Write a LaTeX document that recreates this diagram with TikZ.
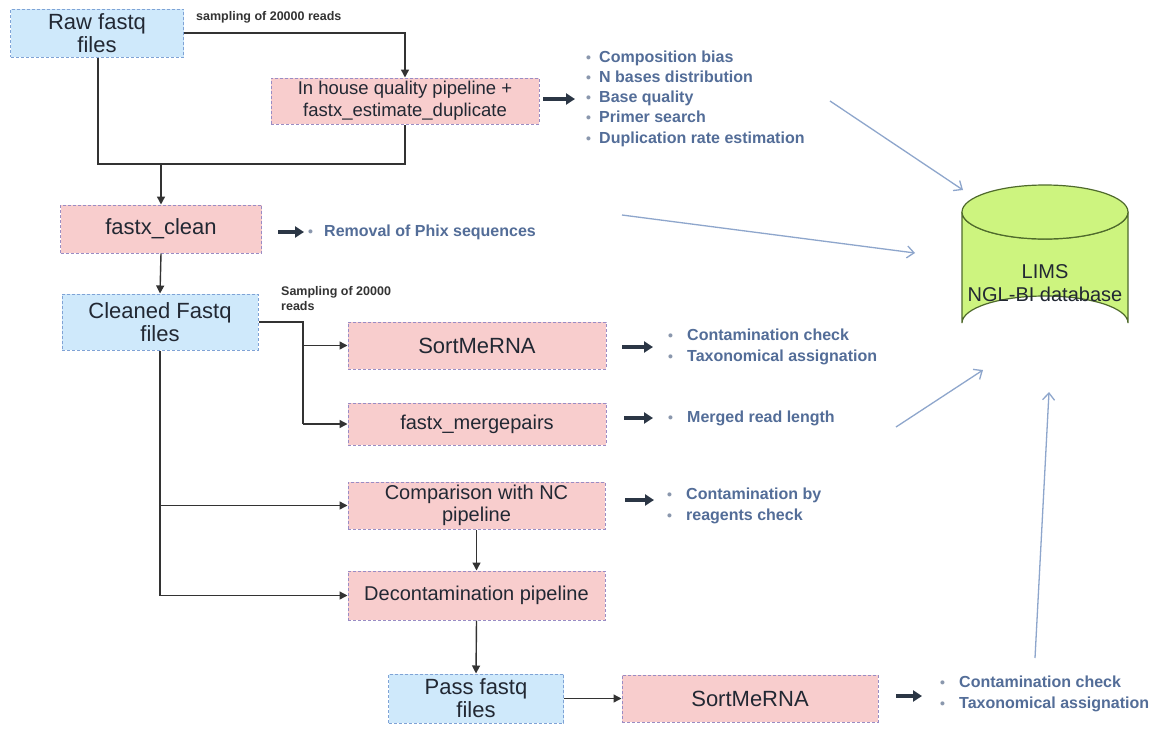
\documentclass[tikz,border=0pt]{standalone}
\usepackage{fontspec}
\setmainfont{Liberation Sans}
\usetikzlibrary{arrows.meta}
\definecolor{bluefill}{HTML}{CFE9FB}
\definecolor{blueedge}{HTML}{7FA3D6}
\definecolor{pinkfill}{HTML}{F8CDCD}
\definecolor{pinkedge}{HTML}{9A8CC4}
\definecolor{bullettext}{HTML}{536D98}
\definecolor{bulletdot}{HTML}{8A97AD}
\definecolor{thickarrow}{HTML}{2B3645}
\definecolor{linkblue}{HTML}{8EA6CC}
\definecolor{dbfill}{HTML}{CDF47F}
\definecolor{dbedge}{HTML}{4F6A2C}
\definecolor{boxtext}{HTML}{222833}
\newcommand{\bitem}[2][19pt]{\makebox[#1][l]{{\fontsize{14}{14}\selectfont\color{bulletdot}\textbullet}}#2}
\tikzset{
  bluebox/.style={draw=blueedge, fill=bluefill, dash pattern=on 3pt off 2pt, line width=1pt,
    align=center, text=boxtext, inner sep=0pt, font=\fontsize{22}{23}\selectfont},
  pinkbox/.style={draw=pinkedge, fill=pinkfill, dash pattern=on 3pt off 2pt, line width=1pt,
    align=center, text=boxtext, inner sep=0pt, font=\fontsize{20}{22}\selectfont},
  bullets/.style={align=left, anchor=west, inner sep=0pt, text=bullettext,
    font=\fontsize{16}{20.3}\selectfont\bfseries},
  smallnote/.style={align=left, anchor=west, inner sep=0pt, text=black!80,
    font=\fontsize{12.5}{15}\selectfont\bfseries},
  flow/.style={draw=black!80, line width=1.4pt, -{Triangle[length=8pt,width=8pt]}},
  plain/.style={draw=black!80, line width=1.4pt},
  fat/.style={draw=thickarrow, line width=4pt, -{Triangle[length=9pt,width=11pt]}},
  tolims/.style={draw=linkblue, line width=1.3pt, -{Straight Barb[length=7pt,width=12pt]}},
}
\begin{document}
\begin{tikzpicture}[x=1pt,y=-1pt]
\useasboundingbox[fill=white] (0,0) rectangle (1173,729);

% main boxes
\node[bluebox, minimum width=173pt, minimum height=48pt] (raw) at (97,33) {Raw fastq\\files};
\node[pinkbox, minimum width=268pt, minimum height=46pt, font=\fontsize{18.5}{22}\selectfont] (inhouse) at (405,101) {In house quality pipeline +\\fastx\_estimate\_duplicate};
\node[pinkbox, minimum width=201pt, minimum height=48pt, font=\fontsize{22}{23}\selectfont] (clean) at (161,229) {fastx\_clean};
\node[bluebox, minimum width=196pt, minimum height=56pt] (cleaned) at (160,322) {Cleaned Fastq\\files};
\node[pinkbox, minimum width=258pt, minimum height=47pt, font=\fontsize{22}{23}\selectfont] (sort1) at (477,345.5) {SortMeRNA};
\node[pinkbox, minimum width=258pt, minimum height=42pt] (merge) at (477,424) {fastx\_mergepairs};
\node[pinkbox, minimum width=257pt, minimum height=47pt] (comp) at (476.5,505.5) {Comparison with NC\\pipeline};
\node[pinkbox, minimum width=257pt, minimum height=49pt] (decont) at (476.5,595.5) {Decontamination pipeline};
\node[bluebox, minimum width=175pt, minimum height=49pt] (pass) at (476,698.5) {Pass fastq\\files};
\node[pinkbox, minimum width=256pt, minimum height=47pt, font=\fontsize{22}{23}\selectfont] (sort2) at (750,698.5) {SortMeRNA};

% notes
\node[smallnote] (note1) at (196,17) {sampling of 20000 reads};
\node[smallnote] (note2) at (281,298.5) {Sampling of 20000\\reads};

% bullet lists
\node[bullets] (b1) at (586,98.5) {\bitem[13pt]{Composition bias}\\\bitem[13pt]{N bases distribution}\\\bitem[13pt]{Base quality}\\\bitem[13pt]{Primer search}\\\bitem[13pt]{Duplication rate estimation}};
\node[bullets] (b2) at (308,232) {\bitem[16pt]{Removal of Phix sequences}};
\node[bullets] (b3) at (668,347) {\bitem{Contamination check}\\\bitem{Taxonomical assignation}};
\node[bullets] (b4) at (668,418) {\bitem{Merged read length}};
\node[bullets] (b5) at (667,506) {\bitem{Contamination by}\\\bitem{reagents check}};
\node[bullets] (b6) at (940,694) {\bitem{Contamination check}\\\bitem{Taxonomical assignation}};

% database cylinder
\draw[fill=dbfill, draw=dbedge, line width=1.2pt]
  (962,212) -- (962,323) arc[start angle=180, end angle=360, x radius=83, y radius=27]
  -- (1128,212) arc[start angle=0, end angle=180, x radius=83, y radius=27] -- cycle;
\draw[fill=dbfill, draw=dbedge, line width=1.2pt] (1045,212) ellipse[x radius=83, y radius=27];
\node[align=center, text=boxtext, font=\fontsize{20}{23}\selectfont] (db) at (1045,283) {LIMS\\NGL-BI database};

% connectors
\coordinate (j1) at (405,33);
\draw[flow] (raw.east |- j1) -- (j1) -- (inhouse.north);
\coordinate (j2) at (98,164);
\coordinate (j3) at (161,164);
\draw[plain] (raw.south -| j2) -- (j2) -- (inhouse.south |- j2) -- (inhouse.south);
\draw[flow] (j3) -- (clean.north);
\draw[flow] (clean.south) -- (cleaned.north);
\coordinate (j4) at (303,322);
\draw[plain] (cleaned.east) -- (j4) -- (j4 |- merge.west);
\draw[flow] (j4 |- sort1.west) -- (sort1.west);
\draw[flow] (j4 |- merge.west) -- (merge.west);
\draw[plain] (cleaned.south) -- (cleaned.south |- decont.west);
\draw[flow] (cleaned.south |- comp.west) -- (comp.west);
\draw[flow] (cleaned.south |- decont.west) -- (decont.west);
\draw[flow] (comp.south) -- (decont.north);
\draw[flow] (decont.south) -- (pass.north);
\draw[flow] (pass.east) -- (sort2.west);

% thick arrows to results
\draw[fat] (543,99) -- (575,99);
\draw[fat] (278,232) -- (304,232);
\draw[fat] (622,347) -- (653,347);
\draw[fat] (624,418) -- (653,418);
\draw[fat] (625,500) -- (654,500);
\draw[fat] (896,696) -- (922,696);

% arrows to LIMS
\coordinate (s1) at (830,101);
\coordinate (e1) at (963,190);
\coordinate (s2) at (622,215);
\coordinate (e2) at (915,253);
\coordinate (s3) at (896,427);
\coordinate (e3) at (983,370);
\coordinate (s4) at (1035,658);
\coordinate (e4) at (1049,392);
\draw[tolims] (s1) -- (e1);
\draw[tolims] (s2) -- (e2);
\draw[tolims] (s3) -- (e3);
\draw[tolims] (s4) -- (e4);
\end{tikzpicture}
\end{document}
